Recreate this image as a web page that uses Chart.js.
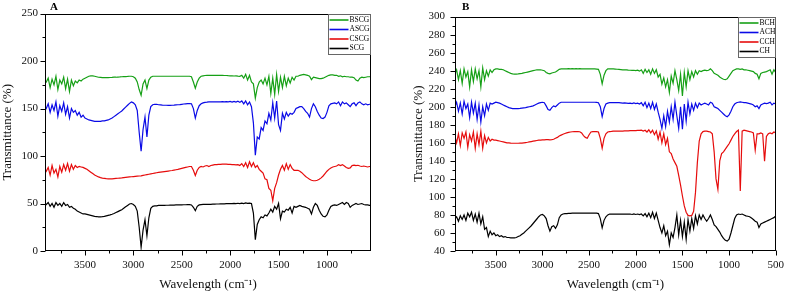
<!DOCTYPE html>
<html><head><meta charset="utf-8">
<script src="https://cdn.jsdelivr.net/npm/chart.js@4.4.1/dist/chart.umd.min.js"></script>
<style>
html,body{margin:0;padding:0;background:#fff;}
#wrap{position:relative;width:792px;height:294px;overflow:hidden;}
canvas{position:absolute;top:0;}
#ca{left:0;} #cb{left:396px;}
</style></head>
<body><div id="wrap"><canvas id="ca" width="396" height="294"></canvas><canvas id="cb" width="396" height="294"></canvas></div>
<script>
// ---------- Panel A data ----------
const aWn = [3913,
3900,3880,3860,3840,3820,3800,3780,3760,3740,3720,
3700,3680,3660,3640,3620,3600,3580,3560,3540,3520,
3500,3480,3460,3440,3420,3400,3380,3360,3340,3320,
3300,3280,3260,3240,3220,3200,3180,3160,3140,3120,
3100,3080,3060,3040,3020,3000,2980,2960,2940,2920,
2900,2880,2860,2840,2820,2800,2780,2760,2740,2720,
2700,2680,2660,2640,2620,2600,2580,2560,2540,2520,
2500,2480,2460,2440,2420,2400,2380,2360,2340,2320,
2300,2280,2260,2240,2220,2200,2180,2160,2140,2120,
2100,2080,2060,2040,2020,2000,1980,1960,1940,1920,
1900,1880,1860,1840,1820,1800,1780,1760,1740,1720,
1700,1680,1660,1640,1620,1600,1580,1560,1540,1520,
1500,1480,1460,1440,1420,1400,1380,1360,1340,1320,
1300,1280,1260,1240,1220,1200,1180,1160,1140,1120,
1100,1080,1060,1040,1020,1000,980,960,940,920,
900,880,860,840,820,800,780,760,740,720,
700,680,660,640,620,600,580,560,
545];
const bscg = [179,
178,182,172,181,175,184,170,180,176,183,
171,181,168,180,174,179,177,180,179,181,
182,183,184,184.5,184.5,184,183.5,183,182.8,182.5,
182.5,182.5,182.6,182.7,182.8,183,183,183.2,183.3,183.5,
183.6,183.7,183.8,184,184,183.5,182,178,170,164,
176,180,171,180,183,184,184,184,184,184,
184,184,184,184,184,184,184,184,184,184,
184,184,184,184,184,183.5,178,171.5,178,182,
184,184.5,184.8,185,185,185,185,185,185,185,
185,185,184.8,184.8,184.6,184.5,184.5,184.3,184.5,184.2,
184,185,182,186,180,185,178,176,161,172,
178,180,176,182,175,184,166,182,165,186,
168,183,172,184,174,182,177,183,180,184,
184,185,185.5,186,185.5,185,184,180.5,183,182.5,
182,181.5,181.5,182,183,184,185,185.5,185.5,185,
185,184,184.5,183.5,184,183.5,183.5,183,183,182.5,
180,179,182,183,182.5,183,183.5,183.5,
184];
const ascg = [152,
150,155,146,154,148,157,142,153,147,156,
144,152,140,150,146,148,143,146,141,143,
140,139,138,137.5,137,136.5,136.5,136.5,136.5,137,
137,137.5,138,139,140,141.5,143,144.5,146,147.5,
149.5,151.5,153.5,155.5,157,156,154,148,125,105,
128,141,120,143,152,154,154.5,154.5,154,153.8,
153.6,153.5,153.5,153.4,153.4,153.5,153.6,153.8,154,154.2,
154.5,154.8,155,155.2,155.3,155,150,140,148,153,
155,156,156.5,156.7,157,157,157,157,157,157,
157,157.2,157,157.3,157,157.5,156.8,157.6,156.9,157.8,
156.5,158,155,158,154,157,152,135,101,120,
118,130,127,137,134,145,138,156,140,158,
133,127,145,139,146,142,145,144,146,150,
151,152,152,150,147,145,141,150,155,152,
147,143,140,139.5,141,146,153,155,155.5,156,
155,157,153,157,155,156,154,152,155,156,
153,156,157,155,154,155,154,154.5,
155];
const cscg = [86,
84,88,80,90,82,86,78,89,83,91,
85,92,84,91,86,90,88,89,88.5,88,
87,86,84.5,83,81.5,80,79,78,77.3,76.8,
76.5,76.2,76,76,76,76.2,76.4,76.6,76.8,77,
77.3,77.6,77.8,78,78.2,78.4,78.6,78.8,79,79.2,
79.6,80,80.4,80.8,81.2,81.6,82,82.4,82.7,83,
83.3,83.6,83.9,84.2,84.5,84.8,85.2,85.6,86,86.5,
87,87.5,88,88.5,89,89,85,79.5,85,88,
89,88.5,89.5,90,89,90,90.5,91,91,91.2,
91.3,91.5,91.5,91.5,91.3,91.2,91,91,90.8,91,
90,92,89,93,88,94,89,93,88,90,
86,84,82,76,75,66,64,53,66,72,
80,86,90,85,92,86,91,87,85,85,
85,84,82.5,80.5,78.5,77,75.5,74.5,74,74,
74.5,75.5,77,79,81.5,84,86,87.5,88.5,89,
89.5,91,90,91,89.5,88,87,87.5,90,90.5,
90,90.3,89.5,89,89.5,89,88.5,89,
89];
const scg = [48,
49,51,47,50,46,51,48,50,47,51,
48,49,46,47,45,44,42,41,40,39,
39,38.5,38,37.5,37,36.5,36.3,36,36,36.2,
36.5,37,37.5,38,38.7,39.5,40.5,41.5,42.5,43.5,
45,46.5,48,49.5,50,49,47,42,25,4,
22,33,16,35,45,47,47.5,47.5,48,48,
48,48,48.2,48.2,48.3,48.3,48.4,48.5,48.5,48.6,
48.6,48.7,48.7,48.8,48.8,48.5,46,42.5,47,48.5,
48.8,49,49,49,49.2,49.2,49.3,49.4,49.5,49.5,
49.6,49.6,49.7,49.8,49.8,50,49.8,50.2,49.9,50.3,
50,50.5,50,50.6,50.2,50.5,50,40,12,28,
33,36,35,38,37,40,44,41,47,44,
50,34,42,41,44,43,46,40,47,46,
47,48,47,46.5,46,45,44,39,46,50,
48,43,39,36.5,36,38,43,47,48,48.5,
48,49,50,51,49,51,50,46,48,49,
50,49,49.5,50,49,48.5,48.5,48,
48];
const aXTicks = [3500,3000,2500,2000,1500,1000];
const aXMinor = [3750,3250,2750,2250,1750,1250,750];
const aYTicks = [0,50,100,150,200,250];
const aYMinor = [25,75,125,175,225];
const aLabels = ['BSCG','ASCG','CSCG','SCG'];

// ---------- Panel B data ----------
const bWn = [3940,3920,3900,3880,3860,3840,3820,3800,3780,3760,
3740,3720,3700,3680,3660,3640,3620,3600,3580,3560,
3540,3520,3500,3480,3460,3440,3420,3400,3380,3360,
3340,3320,3300,3280,3260,3240,3220,3200,3180,3160,
3140,3120,3100,3080,3060,3040,3020,3000,2980,2960,
2940,2920,2900,2880,2860,2840,2820,2800,2780,2760,
2740,2720,2700,2680,2660,2640,2620,2600,2580,2560,
2540,2520,2500,2480,2460,2440,2420,2400,2380,2360,
2340,2320,2300,2280,2260,2240,2220,2200,2180,2160,
2140,2120,2100,2080,2060,2040,2020,2000,1980,1960,
1940,1920,1900,1880,1860,1840,1820,1800,1780,1760,
1740,1720,1700,1680,1660,1640,1620,1600,1580,1560,
1540,1520,1500,1480,1460,1440,1420,1400,1380,1360,
1340,1320,1300,1280,1260,1240,1220,1200,1180,1160,
1140,1120,1100,1080,1060,1040,1020,1000,980,960,
940,920,900,880,860,840,820,800,780,760,
740,720,700,680,660,640,620,600,580,560,
540,520,500];
const bch = [236,241,230,240,226,242,233,239,222,241,
228,242,231,240,222,243,230,240,234,241,
238,241,242,242,241.5,241.5,241,240,239,238,
237,236.5,236.3,236.3,236.5,236.8,237,237.5,238,238.5,
239,239.5,240,240.5,241,241,241,240.5,240,238,
237,236.5,237.5,238,238.5,240,241.5,242,242,242,
242,242.2,242,242.2,242,242.2,242,242.2,242,242,
242,242,242,242,242,242,241.8,241.5,236,225.5,
235,240,242,242,242,242,241.8,241.6,241.4,241.2,
241,241,240.8,240.6,240.5,240.3,240.5,240,240.5,239.5,
241,237,241.5,238,241,236,242,237,241,233,
236,225,232,222,230,216,234,226,240,230,
218,236,212,238,222,240,230,239,233,240,
236,240,239,240,240.5,240,240.5,242,240,237,
236,235,233,231.5,230.5,230,231,234,237,240,
241,242,242,241.5,242,241,241,240.5,240,239.5,
239,237,236,231,237,238,238.5,239,240,241,
236,241,238];
const ach = [200,205,195,204,192,206,198,203,188,205,
193,204,186,202,183,200,190,203,196,204,
203,204,205,204.5,204,203,202,201,200,199,
198.5,198,198,198,198,198.2,198.5,198.8,199,199.5,
200,200.5,201,202,203,204,204.5,205,204.5,201,
197,196,199,201,200,202,204,205,205,205,
205,205,205,205,205,205,205,205,205,205,
205,205,205,205,205,205,204.8,204.5,200,189,
198,203,204,204.5,204.5,204.5,204.5,204.5,204.5,204.3,
204,204.2,204,203.8,204,203.5,204.2,203.5,204,203,
204.5,201,205,199,204,198,205,197,203,194,
186,176,190,178,195,183,200,186,205,190,
176,200,175,203,184,205,192,203,196,204,
199,204,202,203,204,203,202,205,204,200,
199,198,196,194,192,190,189,191,195,200,
203,204.5,205,205.5,205,204.5,204.5,204,203.5,203,
202,200,201,198,202,203,204,203.5,204,205,
202,204,203];
const cch = [168,160,170,157,171,165,172,155,169,162,
172,154,170,158,173,154,168,160,166,162,
164,163,163,162.5,162,161.5,161,160.5,160,160,
159.7,159.5,159.5,159.5,159.5,159.6,159.7,160,160.3,160.6,
161,161.4,161.8,162.2,162.6,163,163,163.2,163.3,163.5,
163.5,163.2,163.5,164,165,166,167.5,168.5,169.5,170.3,
171,171.5,172,172.3,172.5,172.5,172.5,172.3,171,168,
166,165,169,172,172.5,172.5,172.5,172,165,154,
165,170,172,172.5,172.7,173,173,173,173,173,
173,173.2,173.3,173.3,173.5,173.5,173.6,173.6,173.8,173.8,
174,173,174,172,174.5,171,174,169,173,164,
172,160,170,158,165,150,148,142,138,134,
124,113,101,90,83,79.5,79,79.5,84,105,
138,162,170,172.5,173,173,172.5,172,170,150,
120,108.5,140,148,150,153,156,159,163,167,
170,172.5,174,106.6,173,174,173.5,173,172.5,172,
171,152,170,170,171,170,139.5,167,170,171,
170,172,171];
const ch = [76,78,73,79,75,80,74,82,78,83,
74,81,72,82,70,78,64,66,56,62,
58,60,57,58,56,57,55.5,56,55,55,
54.5,54.5,54.5,55,56,57,58.5,60,62,64,
66,68,70.5,73,75.5,78,80,80.5,79,76,
68,62,67,68,65,69,77,80,81,81.5,
81.5,81.7,81.8,82,82,82,82,82,82,82,
82,82,82,82,82,82,82,81.5,76,65.7,
74,78,80,81,81,81,81,81,81,81,
81,81,81,80.8,81,80.5,81.2,80.5,81,80.3,
81,79,81.5,78,82,77,83,76,82,74,
66,60,68,57,62,47,60,55,66,80,
58,74,56,72,53,75,62,76,65,79,
70,80,75,80,76,73,76,80,75,69,
67,64,61,57,54,52,51,53,60,68,
76,80,81,80.5,81,80,79,78.5,78,76.5,
75,73,72,66,70,71,72,73,74,75,
76,77,79];
const bXTicks = [3500,3000,2500,2000,1500,1000,500];
const bXMinor = [3750,3250,2750,2250,1750,1250,750];
const bYTicks = [40,60,80,100,120,140,160,180,200,220,240,260,280,300];
const bYMinor = [50,70,90,110,130,150,170,190,210,230,250,270,290];
const bLabels = ['BCH','ACH','CCH','CH'];

const COLORS = ['#16a016','#0a0ae6','#e60c0c','#000000'];
const SERIF = '"Liberation Serif","Times New Roman",serif';
Chart.defaults.font.family = SERIF;
Chart.defaults.color = '#111';

const decor = {
  id: 'decor',
  afterDraw(chart, args, o) {
    const {ctx, chartArea: a, scales: {x, y}} = chart;
    ctx.save();
    ctx.strokeStyle = '#000';
    ctx.lineWidth = 1;
    const L = Math.round(a.left) + 0.5, R = Math.round(a.right) - 0.5;
    const T = Math.round(a.top) + 0.5, B = Math.round(a.bottom) - 0.5;
    ctx.strokeRect(L, T, R - L, B - T);
    ctx.beginPath();
    o.xMajor.forEach(v => { const p = Math.round(x.getPixelForValue(v)) + 0.5; ctx.moveTo(p, B); ctx.lineTo(p, B + 5); });
    o.xMinor.forEach(v => { const p = Math.round(x.getPixelForValue(v)) + 0.5; ctx.moveTo(p, B); ctx.lineTo(p, B + 3); });
    o.yMajor.forEach(v => { const p = Math.round(y.getPixelForValue(v)) + 0.5; ctx.moveTo(L, p); ctx.lineTo(L - 5, p); });
    o.yMinor.forEach(v => { const p = Math.round(y.getPixelForValue(v)) + 0.5; ctx.moveTo(L, p); ctx.lineTo(L - 3, p); });
    ctx.stroke();
    // panel letter
    ctx.fillStyle = '#000';
    ctx.font = 'bold 11px ' + SERIF;
    ctx.textBaseline = 'alphabetic';
    ctx.fillText(o.letter, a.left + o.letterDx, 10);
    // legend
    const lx = Math.round(a.left + (a.right - a.left) * o.legendFrac) + 0.5;
    const lb = T + 40;
    ctx.fillStyle = '#fff';
    ctx.fillRect(lx, T, R - lx, lb - T);
    ctx.strokeStyle = '#666';
    ctx.strokeRect(lx, T, R - lx, lb - T);
    ctx.font = '7.5px ' + SERIF;
    ctx.textBaseline = 'middle';
    chart.data.datasets.forEach((d, i) => {
      const yy = T + 5.5 + i * 9.5;
      ctx.strokeStyle = d.borderColor;
      ctx.lineWidth = 1.6;
      ctx.beginPath(); ctx.moveTo(lx + 1, yy); ctx.lineTo(lx + 20, yy); ctx.stroke();
      ctx.fillStyle = '#000';
      ctx.fillText(d.label, lx + 21, yy);
    });
    ctx.restore();
  }
};

function makeChart(id, wn, series, labels, cfg) {
  const datasets = series.map((s, i) => ({
    label: labels[i],
    data: wn.map((w, j) => ({x: w, y: s[j]})),
    borderColor: COLORS[i], borderWidth: 1.2, pointRadius: 0, tension: 0, fill: false
  }));
  return new Chart(document.getElementById(id), {
    type: 'line',
    data: {datasets},
    plugins: [decor],
    options: {
      responsive: false, animation: false, devicePixelRatio: 1,
      layout: {padding: {left: 0, right: cfg.padRight, top: cfg.padTop, bottom: 0}},
      plugins: {legend: {display: false}, tooltip: {enabled: false},
        decor: {xMajor: cfg.xTicks, xMinor: cfg.xMinor, yMajor: cfg.yTicks, yMinor: cfg.yMinor,
                letter: cfg.letter, letterDx: cfg.letterDx, legendFrac: cfg.legendFrac}},
      scales: {
        x: {type: 'linear', reverse: true, min: cfg.xMin, max: cfg.xMax,
          afterBuildTicks: s => { s.ticks = cfg.xTicks.map(v => ({value: v})); },
          afterFit: s => { s.height = 43; },
          ticks: {autoSkip: false, maxRotation: 0, padding: 8, font: {size: 11}, color: '#111', callback: v => String(v)},
          grid: {drawOnChartArea: false, drawTicks: false},
          border: {display: false},
          title: {display: true, text: 'Wavelength (cm\u207B\u00B9)', font: {size: 13}, color: '#111', padding: {top: 0, bottom: 2}}
        },
        y: {type: 'linear', min: cfg.yMin, max: cfg.yMax,
          afterBuildTicks: s => { s.ticks = cfg.yTicks.map(v => ({value: v})); },
          afterFit: s => { s.width = cfg.yWidth; },
          ticks: {padding: cfg.yPad, font: {size: 11}, color: '#111', callback: v => String(v)},
          grid: {drawOnChartArea: false, drawTicks: false},
          border: {display: false},
          title: {display: true, text: 'Transmittance (%)', font: {size: 13}, color: '#111', padding: {top: cfg.yTitlePad, bottom: 0}}
        }
      }
    }
  });
}

makeChart('ca', aWn, [bscg, ascg, cscg, scg], aLabels, {
  padRight: 25, padTop: 13, xMin: 545, xMax: 3913, yMin: 0, yMax: 250,
  xTicks: aXTicks, xMinor: aXMinor, yTicks: aYTicks, yMinor: aYMinor,
  yWidth: 45, yPad: 7, yTitlePad: 0, letter: 'A', letterDx: 5, legendFrac: 0.869
});
makeChart('cb', bWn, [bch, ach, cch, ch], bLabels, {
  padRight: 9, padTop: 13, xMin: 500, xMax: 3937, yMin: 40, yMax: 300,
  xTicks: bXTicks, xMinor: bXMinor, yTicks: bYTicks, yMinor: bYMinor,
  yWidth: 59, yPad: 10, yTitlePad: 15, letter: 'B', letterDx: 7, legendFrac: 0.882
});
</script></body></html>
